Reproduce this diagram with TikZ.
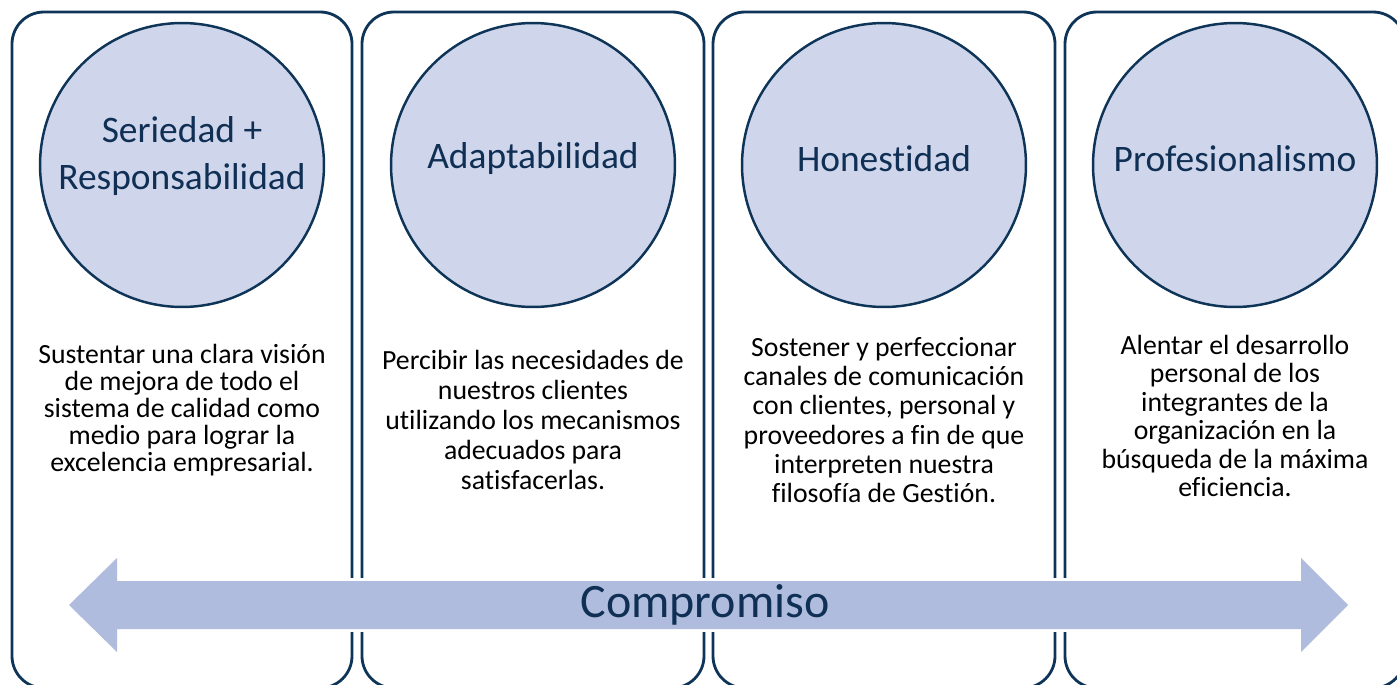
\documentclass[tikz,border=0pt]{standalone}
\usepackage{fontspec}
\setmainfont{Carlito}[Ligatures=NoCommon]
\definecolor{marco}{HTML}{0E3458}
\definecolor{relleno}{HTML}{CFD5EA}
\definecolor{flecha}{HTML}{AFBCDD}
\definecolor{titulo}{HTML}{0F2F54}
\tikzset{
  panel/.style={draw=marco, line width=1.6pt, rounded corners=0.64cm},
  valor/.style={circle, draw=marco, line width=1.4pt, fill=relleno, minimum size=5.68cm, inner sep=0pt},
  rotulo/.style={align=center, text=titulo, font=\fontsize{21.3}{27}\selectfont},
  texto/.style={align=center, text=black, font=\fontsize{15.8}{17}\selectfont}
}
\begin{document}
\begin{tikzpicture}[x=0.02cm, y=-0.02cm]
\useasboundingbox (0,0) rectangle (1397,684);
\clip (0,0) rectangle (1397,684);
% paneles
\draw[panel] (12,12) rectangle (352,688);
\draw[panel] (362,12) rectangle (704,688);
\draw[panel] (713,12) rectangle (1055,688);
\draw[panel] (1065,12) rectangle (1405,688);
% valores
\node[valor] (c1) at (182,165) {};
\node[valor] (c2) at (533,165) {};
\node[valor] (c3) at (884,165) {};
\node[valor] (c4) at (1235,165) {};
\node[rotulo] (seriedad) at (182,156) {Seriedad +\\Responsabilidad};
\node[rotulo] (adaptabilidad) at (533,159) {Adaptabilidad};
\node[rotulo] (honestidad) at (884,159) {Honestidad};
\node[rotulo] (profesionalismo) at (1235,159) {Profesionalismo};
% descripciones
\node[texto, font=\fontsize{15.8}{15.4}\selectfont] (desc1) at (182,410) {Sustentar una clara visión\\de mejora de todo el\\sistema de calidad como\\medio para lograr la\\excelencia empresarial.};
\node[texto, font=\fontsize{15.8}{17.2}\selectfont] (desc2) at (533,420) {Percibir las necesidades de\\nuestros clientes\\utilizando los mecanismos\\adecuados para\\satisfacerlas.};
\node[texto, font=\fontsize{15.8}{16.7}\selectfont] (desc3) at (884,420) {Sostener y perfeccionar\\canales de comunicación\\con clientes, personal y\\proveedores a fin de que\\interpreten nuestra\\filosofía de Gestión.};
\node[texto, font=\fontsize{15.8}{16.2}\selectfont] (desc4) at (1235,416) {Alentar el desarrollo\\personal de los\\integrantes de la\\organización en la\\búsqueda de la máxima\\eficiencia.};
% flecha
\fill[flecha, preaction={draw=white, line width=3.4pt}] (69,605) -- (117,558) -- (117,581) -- (1301,581) -- (1301,558) -- (1348,605) -- (1301,652) -- (1301,629) -- (117,629) -- (117,652) -- cycle;
\node[text=titulo, font=\fontsize{27.3}{33}\selectfont] (compromiso) at (705,605) {Compromiso};
\end{tikzpicture}
\end{document}
